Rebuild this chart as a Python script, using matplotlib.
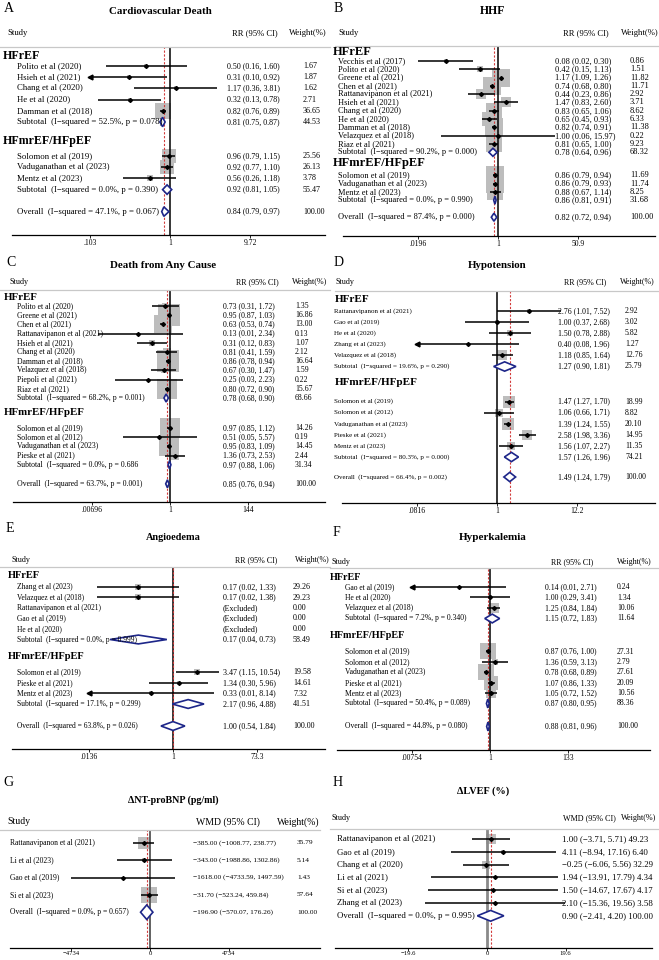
import matplotlib.pyplot as plt
from matplotlib.lines import Line2D
from matplotlib.ticker import NullLocator

plt.rcParams['font.family'] = ['Liberation Serif', 'DejaVu Serif']

W, H = 659, 960

# ---------------- data (study, estimate, lower, upper, weight) ----------------
cvd_hfref = [("Polito et al (2020)", 0.50, 0.16, 1.60, 1.67),
             ("Hsieh et al (2021)", 0.31, 0.10, 0.92, 1.87),
             ("Chang et al (2020)", 1.17, 0.36, 3.81, 1.62),
             ("He et al (2020)", 0.32, 0.13, 0.78, 2.71),
             ("Damman et al (2018)", 0.82, 0.76, 0.89, 36.65)]
cvd_hfpef = [("Solomon et al (2019)", 0.96, 0.79, 1.15, 25.56),
             ("Vaduganathan et al (2023)", 0.92, 0.77, 1.10, 26.13),
             ("Mentz et al (2023)", 0.56, 0.26, 1.18, 3.78)]
cvd_subtotals = [("Subtotal  (I\u2212squared = 52.5%, p = 0.078)", 0.81, 0.75, 0.87, 44.53),
                 ("Subtotal  (I\u2212squared = 0.0%, p = 0.390)", 0.92, 0.81, 1.05, 55.47)]
cvd_overall = ("Overall  (I\u2212squared = 47.1%, p = 0.067)", 0.84, 0.79, 0.97, 100.00)
cvd_ticks = [0.103, 1, 9.72]
cvd_ticklabels = [".103", "1", "9.72"]

hhf_hfref = [("Vecchis et al (2017)", 0.08, 0.02, 0.30, 0.86),
             ("Polito et al (2020)", 0.42, 0.15, 1.13, 1.51),
             ("Greene et al (2021)", 1.17, 1.09, 1.26, 11.82),
             ("Chen et al (2021)", 0.74, 0.68, 0.80, 11.71),
             ("Rattanavipanon et al (2021)", 0.44, 0.23, 0.86, 2.92),
             ("Hsieh et al (2021)", 1.47, 0.83, 2.60, 3.71),
             ("Chang et al (2020)", 0.83, 0.65, 1.06, 8.62),
             ("He et al (2020)", 0.65, 0.45, 0.93, 6.33),
             ("Damman et al (2018)", 0.82, 0.74, 0.91, 11.38),
             ("Velazquez et al (2018)", 1.00, 0.06, 15.97, 0.22),
             ("Riaz et al (2021)", 0.81, 0.65, 1.00, 9.23)]
hhf_hfpef = [("Solomon et al (2019)", 0.86, 0.79, 0.94, 11.69),
             ("Vaduganathan et al (2023)", 0.86, 0.79, 0.93, 11.74),
             ("Mentz et al (2023)", 0.88, 0.67, 1.14, 8.25)]
hhf_subtotals = [("Subtotal  (I\u2212squared = 90.2%, p = 0.000)", 0.78, 0.64, 0.96, 68.32),
                 ("Subtotal  (I\u2212squared = 0.0%, p = 0.990)", 0.86, 0.81, 0.91, 31.68)]
hhf_overall = ("Overall  (I\u2212squared = 87.4%, p = 0.000)", 0.82, 0.72, 0.94, 100.00)
hhf_ticks = [0.0196, 1, 50.9]
hhf_ticklabels = [".0196", "1", "50.9"]

acm_hfref = [("Polito et al (2020)", 0.73, 0.31, 1.72, 1.35),
             ("Greene et al (2021)", 0.95, 0.87, 1.03, 16.86),
             ("Chen et al (2021)", 0.63, 0.53, 0.74, 13.00),
             ("Rattanavipanon et al (2021)", 0.13, 0.01, 2.34, 0.13),
             ("Hsieh et al (2021)", 0.31, 0.12, 0.83, 1.07),
             ("Chang et al (2020)", 0.81, 0.41, 1.59, 2.12),
             ("Damman et al (2018)", 0.86, 0.78, 0.94, 16.64),
             ("Velazquez et al (2018)", 0.67, 0.30, 1.47, 1.59),
             ("Piepoli et al (2021)", 0.25, 0.03, 2.23, 0.22),
             ("Riaz et al (2021)", 0.80, 0.72, 0.90, 15.67)]
acm_hfpef = [("Solomon et al (2019)", 0.97, 0.85, 1.12, 14.26),
             ("Solomon et al (2012)", 0.51, 0.05, 5.57, 0.19),
             ("Vaduganathan et al (2023)", 0.95, 0.83, 1.09, 14.45),
             ("Pieske et al (2021)", 1.36, 0.73, 2.53, 2.44)]
acm_subtotals = [("Subtotal  (I\u2212squared = 68.2%, p = 0.001)", 0.78, 0.68, 0.90, 68.66),
                 ("Subtotal  (I\u2212squared = 0.0%, p = 0.686", 0.97, 0.88, 1.06, 31.34)]
acm_overall = ("Overall  (I\u2212squared = 63.7%, p = 0.001)", 0.85, 0.76, 0.94, 100.00)
acm_ticks = [0.00696, 1, 144]
acm_ticklabels = [".00696", "1", "144"]

hyp_hfref = [("Rattanavipanon et al (2021)", 2.76, 1.01, 7.52, 2.92),
             ("Gao et al (2019)", 1.00, 0.37, 2.68, 3.02),
             ("He et al (2020)", 1.50, 0.78, 2.88, 5.82),
             ("Zhang et al (2023)", 0.40, 0.08, 1.96, 1.27),
             ("Velazquez et al (2018)", 1.18, 0.85, 1.64, 12.76)]
hyp_hfpef = [("Solomon et al (2019)", 1.47, 1.27, 1.70, 18.99),
             ("Solomon et al (2012)", 1.06, 0.66, 1.71, 8.82),
             ("Vaduganathan et al (2023)", 1.39, 1.24, 1.55, 20.10),
             ("Pieske et al (2021)", 2.58, 1.98, 3.36, 14.95),
             ("Mentz et al (2023)", 1.56, 1.07, 2.27, 11.35)]
hyp_subtotals = [("Subtotal  (I\u2212squared = 19.6%, p = 0.290)", 1.27, 0.90, 1.81, 25.79),
                 ("Subtotal  (I\u2212squared = 80.3%, p = 0.000)", 1.57, 1.26, 1.96, 74.21)]
hyp_overall = ("Overall  (I\u2212squared = 66.4%, p = 0.002)", 1.49, 1.24, 1.79, 100.00)
hyp_ticks = [0.0816, 1, 12.2]
hyp_ticklabels = [".0816", "1", "12.2"]

ang_hfref = [("Zhang et al (2023)", 0.17, 0.02, 1.33, 29.26),
             ("Velazquez et al (2018)", 0.17, 0.02, 1.38, 29.23),
             ("Rattanavipanon et al (2021)", None, None, None, 0.00),
             ("Gao et al (2019)", None, None, None, 0.00),
             ("He et al (2020)", None, None, None, 0.00)]
ang_hfpef = [("Solomon et al (2019)", 3.47, 1.15, 10.54, 19.58),
             ("Pieske et al (2021)", 1.34, 0.30, 5.96, 14.61),
             ("Mentz et al (2023)", 0.33, 0.01, 8.14, 7.32)]
ang_subtotals = [("Subtotal  (I\u2212squared = 0.0%, p = 0.999)", 0.17, 0.04, 0.73, 58.49),
                 ("Subtotal  (I\u2212squared = 17.1%, p = 0.299)", 2.17, 0.96, 4.88, 41.51)]
ang_overall = ("Overall  (I\u2212squared = 63.8%, p = 0.026)", 1.00, 0.54, 1.84, 100.00)
ang_ticks = [0.0136, 1, 73.3]
ang_ticklabels = [".0136", "1", "73.3"]

hyk_hfref = [("Gao et al (2019)", 0.14, 0.007, 2.71, 0.24),
             ("He et al (2020)", 1.00, 0.29, 3.41, 1.34),
             ("Velazquez et al (2018)", 1.25, 0.84, 1.84, 10.06)]
hyk_hfpef = [("Solomon et al (2019)", 0.87, 0.76, 1.00, 27.31),
             ("Solomon et al (2012)", 1.36, 0.59, 3.13, 2.79),
             ("Vaduganathan et al (2023)", 0.78, 0.68, 0.89, 27.61),
             ("Pieske et al (2021)", 1.07, 0.86, 1.33, 20.09),
             ("Mentz et al (2023)", 1.05, 0.72, 1.52, 10.56)]
hyk_subtotals = [("Subtotal  (I\u2212squared = 7.2%, p = 0.340)", 1.15, 0.72, 1.83, 11.64),
                 ("Subtotal  (I\u2212squared = 50.4%, p = 0.089)", 0.87, 0.80, 0.95, 88.36)]
hyk_overall = ("Overall  (I\u2212squared = 44.8%, p = 0.080)", 0.88, 0.81, 0.96, 100.00)
hyk_ticks = [0.00754, 1, 133]
hyk_ticklabels = [".00754", "1", "133"]

bnp_studies = [("Rattanavipanon et al (2021)", -385.00, -1008.77, 238.77, 35.79),
               ("Li et al (2023)", -343.00, -1988.86, 1302.86, 5.14),
               ("Gao et al (2019)", -1618.00, -4733.59, 1497.59, 1.43),
               ("Si et al (2023)", -31.70, -523.24, 459.84, 57.64)]
bnp_overall = ("Overall  (I\u2212squared = 0.0%, p = 0.657)", -196.90, -570.07, 176.26, 100.00)
bnp_ticks = [-4734, 0, 4734]
bnp_ticklabels = ["\u22124734", "0", "4734"]

lvef_studies = [("Rattanavipanon et al (2021)", 1.00, -3.71, 5.71, 49.23),
                ("Gao et al (2019)", 4.11, -8.94, 17.16, 6.40),
                ("Chang et al (2020)", -0.25, -6.06, 5.56, 32.29),
                ("Li et al (2021)", 1.94, -13.91, 17.79, 4.34),
                ("Si et al (2023)", 1.50, -14.67, 17.67, 4.17),
                ("Zhang et al (2023)", 2.10, -15.36, 19.56, 3.58)]
lvef_overall = ("Overall  (I\u2212squared = 0.0%, p = 0.995)", 0.90, -2.41, 4.20, 100.00)
lvef_ticks = [-19.6, 0, 19.6]
lvef_ticklabels = ["\u221219.6", "0", "19.6"]

group_names = ["HFrEF", "HFmrEF/HFpEF"]

NAVY = '#1d2689'
RED = '#d23c3c'
GREY = '#bdbdbd'

fig = plt.figure(figsize=(W / 100, H / 100), dpi=100)


def fx(px):
    return px / W


def fy(py):
    return 1 - py / H


def num(v):
    return f"{v:.2f}".replace("-", "\u2212")


def hline(x0, x1, y, **kw):
    fig.add_artist(Line2D([fx(x0), fx(x1)], [fy(y), fy(y)], **kw))


def forest(p, groups, subtotals, overall, ticks, ticklabels, log=True):
    x0, x1 = p['box']
    top, axis_y = p['top'], p['axis_y']
    null, sc = p['null'], p['scale']

    ax = fig.add_axes([fx(x0), fy(axis_y), fx(x1) - fx(x0), (axis_y - top) / H])
    ax.set_ylim(axis_y, top)
    if log:
        ax.set_xscale('log')
        ax.set_xlim(10 ** ((x0 - null) / sc), 10 ** ((x1 - null) / sc))
        ref = 1
    else:
        ax.set_xlim((x0 - null) / sc, (x1 - null) / sc)
        ref = 0
    ax.patch.set_alpha(0)
    for s in ['top', 'left', 'right']:
        ax.spines[s].set_visible(False)
    ax.spines['bottom'].set_linewidth(0.9)
    ax.set_yticks([])
    ax.set_xticks(ticks)
    ax.set_xticklabels(ticklabels)
    ax.xaxis.set_minor_locator(NullLocator())
    ax.tick_params(axis='x', length=2, width=0.6, labelsize=p.get('tks', 5.5),
                   pad=p.get('tkpad', 1.0))

    ax.axvline(ref, color=p.get('null_color', 'black'), lw=p.get('null_lw', 1.1), zorder=2)
    ax.axvline(overall[1], color=RED, lw=0.8, ls=(0, (2, 1.5)), zorder=2.5)

    # titles and headers
    fig.text(fx(p['letter'][0]), fy(p['letter'][1]), p['letter'][2], fontsize=10, va='center')
    fig.text(fx(p['title'][0]), fy(p['title'][1]), p['title'][2], fontsize=p['tfs'],
             fontweight='bold', ha='center', va='center')
    hy = p['head_y']
    fig.text(fx(p['study_x']), fy(hy), "Study", fontsize=p['hfs'], va='center')
    for lab, cx in p['cols']:
        fig.text(fx(cx), fy(hy), lab, fontsize=p['hfs'], ha='center', va='center')
    hline(p['hl'][0], p['hl'][1], top, color='#c8c8c8', lw=0.9)

    # row positions
    h1, s1, step, dh2, ds2, step2, dov = p['rows']
    hh = max(0.42 * step, 4.0)
    k = p['k']
    lo_lim, hi_lim = ticks[0], ticks[-1]

    def val_text(y, est, lo, hi, w):
        if est is None:
            fig.text(fx(p['val_x']), fy(y), "(Excluded)", fontsize=p['vfs'], va='center')
        elif p.get('inline'):
            fig.text(fx(p['val_x']), fy(y), f"{num(est)} ({num(lo)}, {num(hi)}) {w:.2f}",
                     fontsize=p['vfs'], va='center')
            return
        else:
            fig.text(fx(p['val_x']), fy(y), f"{num(est)} ({num(lo)}, {num(hi)})",
                     fontsize=p['vfs'], va='center')
        fig.text(fx(p['w_x']), fy(y), f"{w:.2f}", fontsize=p['vfs'], va='center')

    def study(y, row):
        name, est, lo, hi, w = row
        fig.text(fx(p['name_x']), fy(y), name, fontsize=p['fs'], va='center')
        val_text(y, est, lo, hi, w)
        if est is None:
            return
        side = k * w ** 0.5 * 0.72
        ax.scatter([est], [y], s=side ** 2, marker='s', color=GREY, lw=0, zorder=1)
        a, b = max(lo, lo_lim), min(hi, hi_lim)
        ax.plot([a, b], [y, y], color='black', lw=1.1, zorder=3, solid_capstyle='butt')
        ax.plot([est], [y], marker='D', ms=2.0, color='black', zorder=3)
        if lo < lo_lim:
            ax.plot([lo_lim], [y], marker='<', ms=3.5, color='black', zorder=3)
        if hi > hi_lim:
            ax.plot([hi_lim], [y], marker='>', ms=3.5, color='black', zorder=3)

    def pooled(y, row):
        name, est, lo, hi, w = row
        fig.text(fx(p['name_x']), fy(y), name, fontsize=p['fs'], va='center')
        val_text(y, est, lo, hi, w)
        ax.fill([lo, est, hi, est], [y, y - hh, y, y + hh], facecolor='white',
                edgecolor=NAVY, lw=1.2, zorder=4)

    if len(groups) == 1:
        y = s1
        for row in groups[0]:
            study(y, row)
            y += step
        pooled(y, overall)
        return ax

    gx = p['grp_x']
    fig.text(fx(gx), fy(h1), group_names[0], fontsize=p['gfs'], fontweight='bold', va='center')
    y = s1
    for row in groups[0]:
        study(y, row)
        y += step
    pooled(y, subtotals[0])
    h2 = y + dh2
    fig.text(fx(gx), fy(h2), group_names[1], fontsize=p['gfs'], fontweight='bold', va='center')
    y = h2 + ds2
    for row in groups[1]:
        study(y, row)
        y += step2
    pooled(y, subtotals[1])
    pooled(y + dov, overall)
    return ax


pA = dict(box=(12, 325), top=47, axis_y=235, null=170, scale=81,
          letter=(4, 9, "A"), title=(160, 11, "Cardiovascular Death"), head_y=33,
          study_x=7, cols=[("RR (95% CI)", 255), ("Weight(%)", 308)], hl=(0, 330),
          name_x=17, grp_x=3, val_x=227, w_x=303,
          rows=(56, 66, 11.2, 19, 15, 11.2, 22), k=2.8,
          fs=6.3, gfs=8.6, tfs=7.8, hfs=6.2, vfs=5.8)
pB = dict(box=(343, 655), top=46, axis_y=236, null=498, scale=47,
          letter=(334, 9, "B"), title=(493, 11, "HHF"), head_y=33,
          study_x=338, cols=[("RR (95% CI)", 586), ("Weight(%)", 640)], hl=(335, 659),
          name_x=338, grp_x=333, val_x=555, w_x=630,
          rows=(52, 61, 8.3, 11, 12, 8.3, 17), k=5.3,
          fs=6.0, gfs=9.0, tfs=8.5, hfs=6.2, vfs=6.0)
pC = dict(box=(13, 325), top=290, axis_y=502, null=170, scale=36.1,
          letter=(6, 263, "C"), title=(163, 266, "Death from Any Cause"), head_y=282,
          study_x=10, cols=[("RR (95% CI)", 257), ("Weight(%)", 310)], hl=(0, 330),
          name_x=17, grp_x=4, val_x=223, w_x=295,
          rows=(297, 306, 9.2, 15, 15, 9.2, 19), k=5.2,
          fs=5.6, gfs=7.8, tfs=7.8, hfs=5.9, vfs=5.6)
pD = dict(box=(342, 655), top=291, axis_y=503, null=497, scale=73.6,
          letter=(334, 263, "D"), title=(497, 266, "Hypotension"), head_y=282,
          study_x=336, cols=[("RR (95% CI)", 585), ("Weight(%)", 637)], hl=(335, 659),
          name_x=334, grp_x=335, val_x=558, w_x=625,
          rows=(300, 311, 11.1, 16, 19, 11.1, 20), k=2.6,
          fs=5.0, gfs=8.0, tfs=7.8, hfs=5.8, vfs=5.6)
pE = dict(box=(12, 325), top=567, axis_y=749, null=173, scale=45,
          letter=(6, 529, "E"), title=(173, 537, "Angioedema"), head_y=560,
          study_x=12, cols=[("RR (95% CI)", 256), ("Weight(%)", 312)], hl=(0, 330),
          name_x=17, grp_x=8, val_x=223, w_x=293,
          rows=(575, 587, 10.5, 17, 16, 10.5, 22), k=1.25,
          fs=5.45, gfs=7.5, tfs=7.4, hfs=5.8, vfs=5.8)
pF = dict(box=(337, 650), top=568, axis_y=750, null=490, scale=36.7,
          letter=(333, 532, "F"), title=(493, 537, "Hyperkalemia"), head_y=562,
          study_x=332, cols=[("RR (95% CI)", 572), ("Weight(%)", 634)], hl=(330, 659),
          name_x=345, grp_x=330, val_x=545, w_x=617,
          rows=(577, 587, 10.5, 17, 16, 10.4, 23), k=3.1,
          fs=5.5, gfs=7.3, tfs=8.0, hfs=5.8, vfs=5.6)
pG = dict(box=(10, 320), top=830, axis_y=948, null=150, scale=0.0166,
          letter=(3, 782, "G"), title=(173, 800, "\u0394NT-proBNP (pg/ml)"), head_y=822,
          study_x=7, cols=[("WMD (95% CI)", 228), ("Weight(%)", 298)], hl=(0, 320),
          name_x=10, grp_x=3, val_x=193, w_x=297,
          rows=(0, 843, 17.3, 0, 0, 17.3, 0), k=2.0,
          fs=5.5, gfs=7.5, tfs=7.2, hfs=7.0, vfs=5.3,
          null_color='#555555', null_lw=1.3, tks=4.8, tkpad=0.3)
pH = dict(box=(335, 652), top=829, axis_y=948, null=487, scale=4.01,
          letter=(333, 783, "H"), title=(483, 791, "\u0394LVEF (%)"), head_y=818,
          study_x=332, cols=[("WMD (95% CI)", 589), ("Weight(%)", 639)], hl=(330, 659),
          name_x=337, grp_x=333, val_x=562, w_x=640,
          rows=(0, 839, 12.8, 0, 0, 12.8, 0), k=1.3,
          fs=6.3, gfs=7.5, tfs=7.4, hfs=5.9, vfs=6.3, inline=True,
          null_color='#8a8a8a', null_lw=2.0, tks=4.8, tkpad=0.3)

forest(pA, [cvd_hfref, cvd_hfpef], cvd_subtotals, cvd_overall, cvd_ticks, cvd_ticklabels)
forest(pB, [hhf_hfref, hhf_hfpef], hhf_subtotals, hhf_overall, hhf_ticks, hhf_ticklabels)
forest(pC, [acm_hfref, acm_hfpef], acm_subtotals, acm_overall, acm_ticks, acm_ticklabels)
forest(pD, [hyp_hfref, hyp_hfpef], hyp_subtotals, hyp_overall, hyp_ticks, hyp_ticklabels)
forest(pE, [ang_hfref, ang_hfpef], ang_subtotals, ang_overall, ang_ticks, ang_ticklabels)
forest(pF, [hyk_hfref, hyk_hfpef], hyk_subtotals, hyk_overall, hyk_ticks, hyk_ticklabels)
forest(pG, [bnp_studies], None, bnp_overall, bnp_ticks, bnp_ticklabels, log=False)
forest(pH, [lvef_studies], None, lvef_overall, lvef_ticks, lvef_ticklabels, log=False)

fig.savefig('out.png', dpi=100)
